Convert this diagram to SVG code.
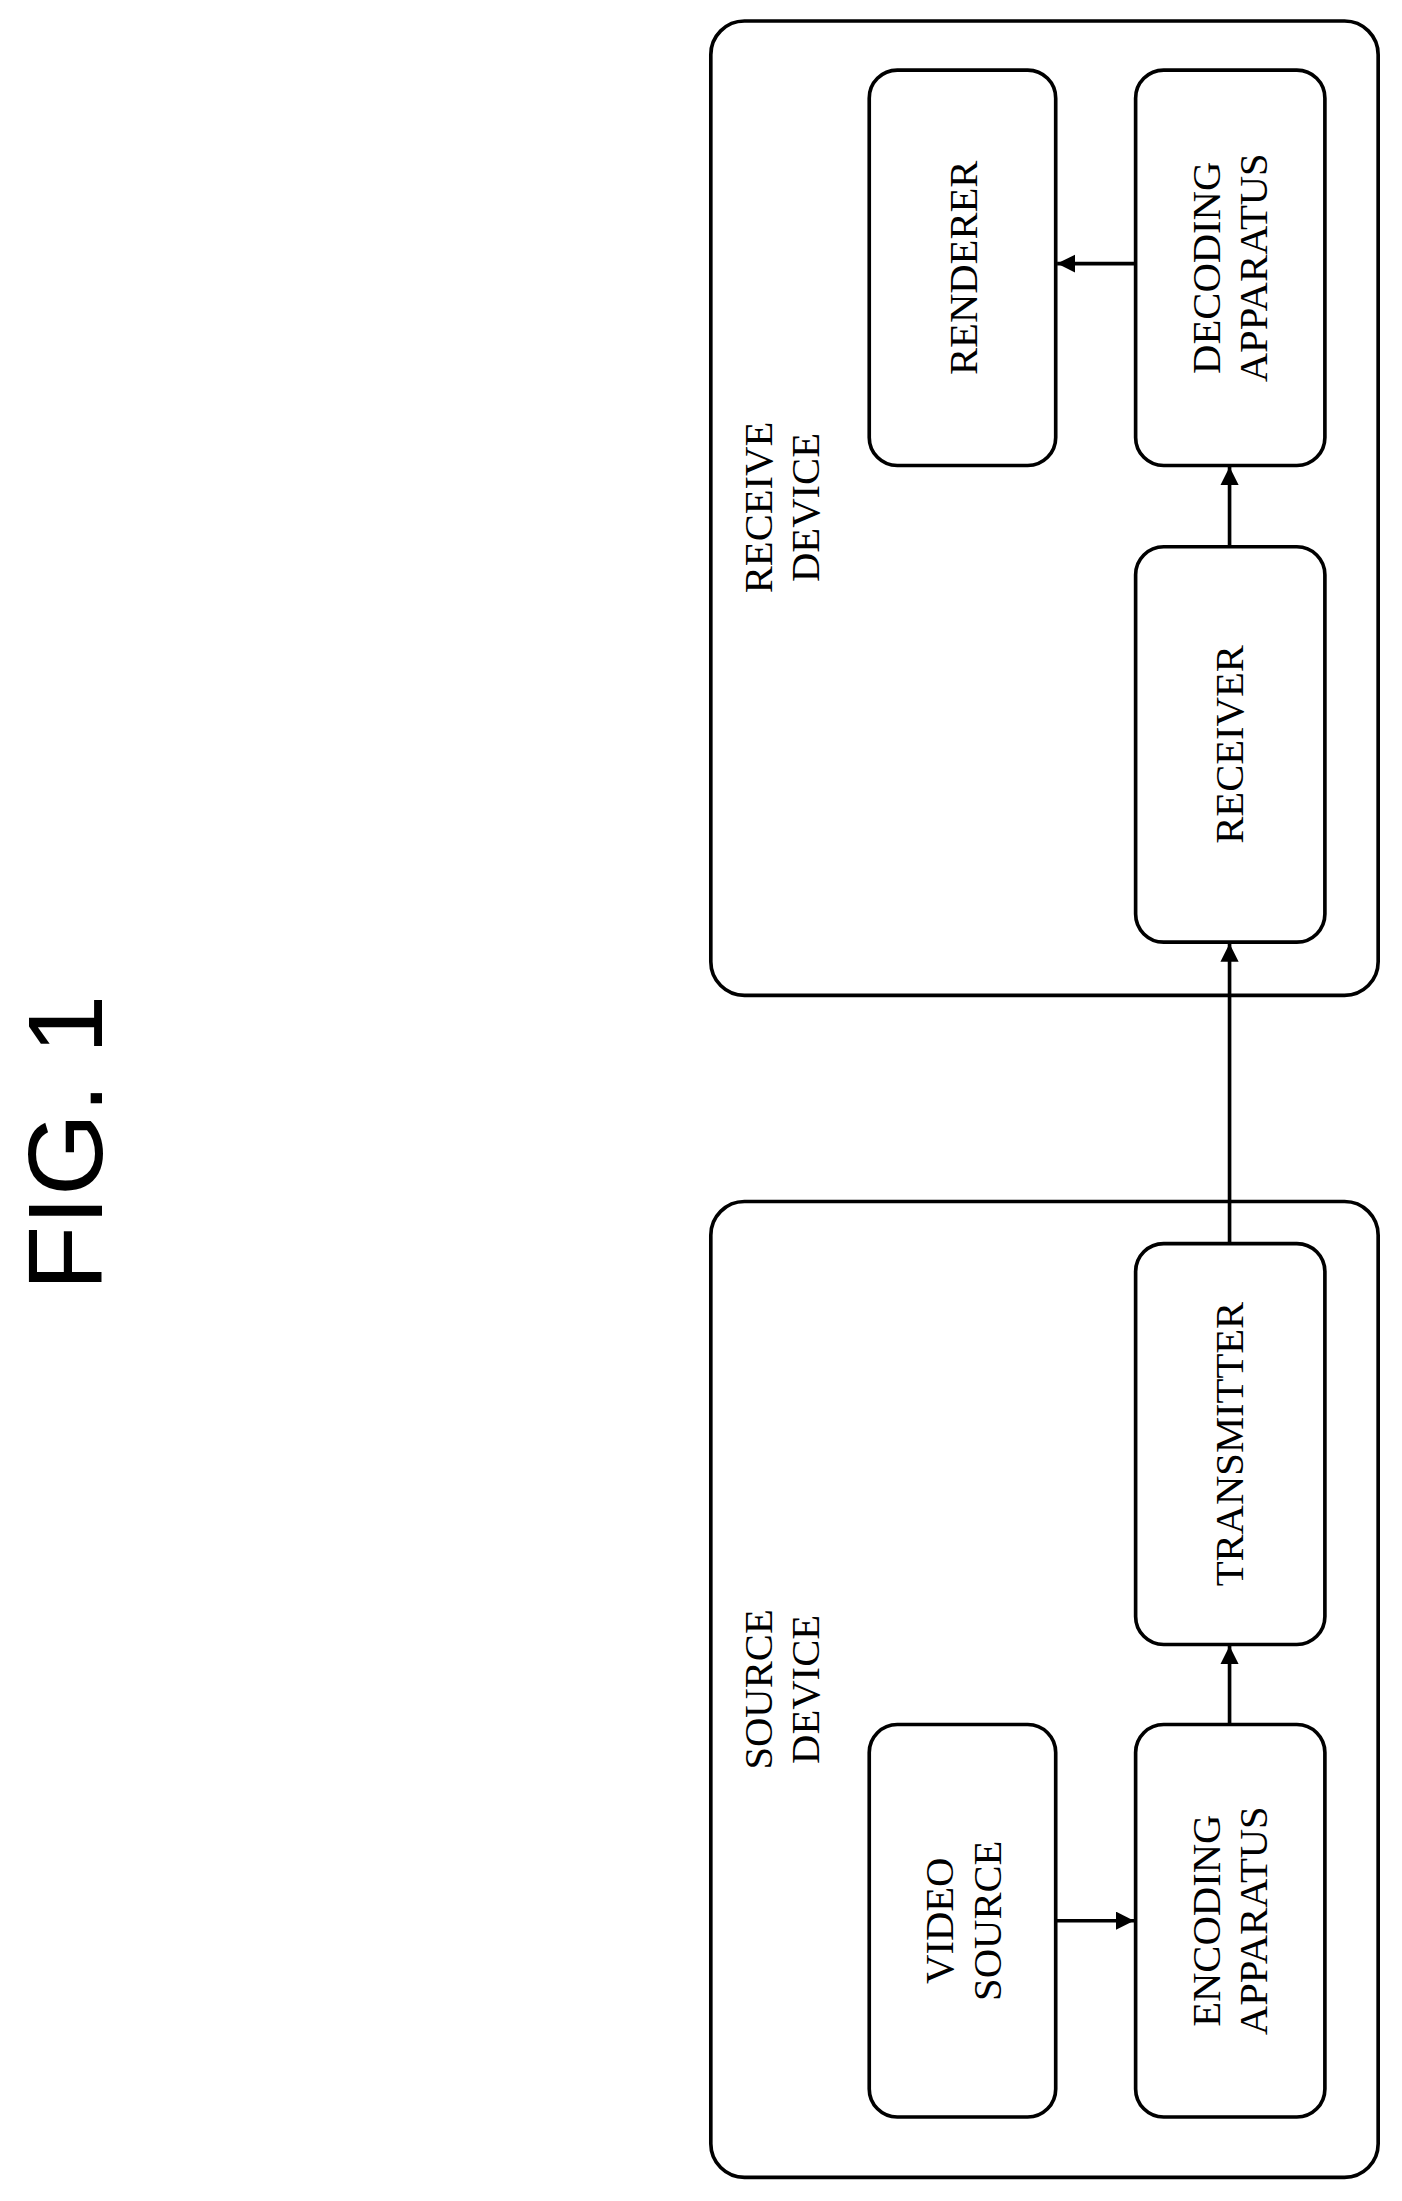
<svg xmlns="http://www.w3.org/2000/svg" width="1402" height="2201" viewBox="0 0 1402 2201">
<style>
.b{fill:none;stroke:#000;stroke-width:2.6}
.t{font-family:"Liberation Serif",serif;font-size:29px;text-anchor:middle;dominant-baseline:central}
.c{stroke:#000;stroke-width:2.6;fill:none}
</style>
<defs><marker id="a" viewBox="0 0 10 10" refX="10" refY="5" markerWidth="5" markerHeight="5" orient="auto" markerUnits="strokeWidth"><path d="M0,0L10,5L0,10z" fill="#000"/></marker></defs>
<rect width="1402" height="2201" fill="#fff"/>
<g transform="scale(1.402)">
<text transform="translate(47,815) rotate(-90)" font-family="Liberation Sans,sans-serif" font-size="76" text-anchor="middle" dominant-baseline="central">FIG. 1</text>
<g id="source"><rect class="b" x="507" y="857" width="476" height="696" rx="24"/><text class="t" transform="translate(557,1205) rotate(-90)"><tspan x="0" y="-16">SOURCE</tspan><tspan x="0" y="17">DEVICE</tspan></text></g>
<g id="receive"><rect class="b" x="507" y="15" width="476" height="695" rx="24"/><text class="t" transform="translate(557,362) rotate(-90)"><tspan x="0" y="-16">RECEIVE</tspan><tspan x="0" y="17">DEVICE</tspan></text></g>
<g id="video"><rect class="b" x="620" y="1230" width="133" height="280" rx="20"/><text class="t" transform="translate(687,1370) rotate(-90)"><tspan x="0" y="-17">VIDEO</tspan><tspan x="0" y="17">SOURCE</tspan></text></g>
<g id="encoding"><rect class="b" x="810" y="1230" width="135" height="280" rx="20"/><text class="t" transform="translate(877,1370) rotate(-90)"><tspan x="0" y="-17">ENCODING</tspan><tspan x="0" y="17">APPARATUS</tspan></text></g>
<g id="transmitter"><rect class="b" x="810" y="887" width="135" height="286" rx="20"/><text class="t" transform="translate(877,1030) rotate(-90)">TRANSMITTER</text></g>
<g id="receiver"><rect class="b" x="810" y="390" width="135" height="282" rx="20"/><text class="t" transform="translate(877,531) rotate(-90)">RECEIVER</text></g>
<g id="decoding"><rect class="b" x="810" y="50" width="135" height="282" rx="20"/><text class="t" transform="translate(877,191) rotate(-90)"><tspan x="0" y="-17">DECODING</tspan><tspan x="0" y="17">APPARATUS</tspan></text></g>
<g id="renderer"><rect class="b" x="620" y="50" width="133" height="282" rx="20"/><text class="t" transform="translate(687,191) rotate(-90)">RENDERER</text></g>
<g id="connectors">
<line class="c" x1="753" y1="1370" x2="809" y2="1370" marker-end="url(#a)"/>
<line class="c" x1="877" y1="1230" x2="877" y2="1174" marker-end="url(#a)"/>
<line class="c" x1="877" y1="887" x2="877" y2="673" marker-end="url(#a)"/>
<line class="c" x1="877" y1="390" x2="877" y2="333" marker-end="url(#a)"/>
<line class="c" x1="810" y1="188" x2="754" y2="188" marker-end="url(#a)"/>
</g>
</g>
</svg>
